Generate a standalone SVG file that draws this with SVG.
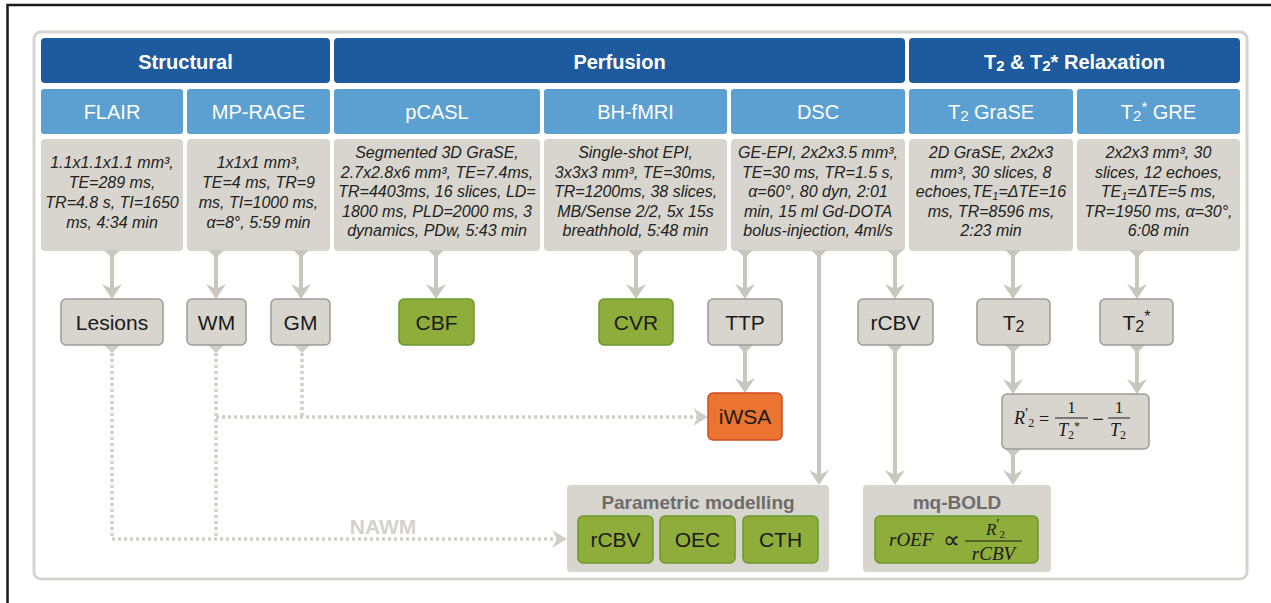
<svg xmlns="http://www.w3.org/2000/svg" width="1271" height="603" viewBox="0 0 1271 603">
<defs>
<style>
.hd{fill:#1e5a9e}
.sh{fill:#5c9fd1}
.pb{fill:#d7d5cd}
.nd{fill:#d7d5cd;stroke:#9d9c97;stroke-width:1.5}
.gr{fill:#8fad3a;stroke:#6a9a2e;stroke-width:1.5}
.or{fill:#ea7430;stroke:#d24a26;stroke-width:1.5}
.ht{font-family:"Liberation Sans",Arial,sans-serif;font-weight:bold;font-size:20px;fill:#fff;text-anchor:middle}
.st{font-family:"Liberation Sans",Arial,sans-serif;font-size:20px;fill:#fff;text-anchor:middle}
.pt{font-family:"Liberation Sans",Arial,sans-serif;font-style:italic;font-size:16px;fill:#222;text-anchor:middle}
.nt{font-family:"Liberation Sans",Arial,sans-serif;font-size:21px;fill:#1a1a1a;text-anchor:middle}
.gt{font-family:"Liberation Sans",Arial,sans-serif;font-weight:bold;font-size:19px;fill:#6c6c6c;text-anchor:middle}
.mi{font-family:"Liberation Serif","Times New Roman",serif;font-style:italic;fill:#1a1a1a}
.mr{font-family:"Liberation Serif","Times New Roman",serif;font-style:normal;fill:#1a1a1a}
.ms{font-family:"DejaVu Sans",sans-serif;fill:#1a1a1a;text-anchor:middle}
.ln{fill:none;stroke:#c9c7bd;stroke-width:4}
.dt{fill:none;stroke:#d0cec6;stroke-width:3.5;stroke-dasharray:3 3}
.wg{fill:#c9c7bd}
.wd{fill:#d0cec6}
</style>
<marker id="ah" markerUnits="userSpaceOnUse" viewBox="0 0 15 20" markerWidth="15" markerHeight="20" refX="6" refY="10" orient="auto">
<path d="M0,0 L15,10 L0,20 L5,10 Z" fill="#c9c7bd"/>
</marker>
<marker id="ahd" markerUnits="userSpaceOnUse" viewBox="0 0 15 18" markerWidth="15" markerHeight="18" refX="6" refY="9" orient="auto">
<path d="M0,0 L15,9 L0,18 L5,9 Z" fill="#d0cec6"/>
</marker>
</defs>
<rect width="1271" height="603" fill="#fff"/>
<path d="M7.5,603 V5 H1271" fill="none" stroke="#1a1a1a" stroke-width="2.5"/>
<rect x="34" y="32" width="1213" height="547" rx="7" fill="#fff" stroke="#d6d4cc" stroke-width="3"/>

<g id="headers">
<rect class="hd" x="41" y="38" width="289" height="45" rx="4"/>
<text class="ht" x="185.5" y="69">Structural</text>
<rect class="hd" x="334" y="38" width="571" height="45" rx="4"/>
<text class="ht" x="619.5" y="69">Perfusion</text>
<rect class="hd" x="909" y="38" width="331" height="45" rx="4"/>
<text class="ht" x="1074.5" y="69">T<tspan font-size="15" dy="2">2</tspan><tspan dy="-2"> &amp; T</tspan><tspan font-size="15" dy="2">2</tspan><tspan dy="-2">* Relaxation</tspan></text>
</g>

<g id="flair">
<rect class="sh" x="41" y="89" width="142" height="45" rx="3"/>
<text class="st" x="112" y="119">FLAIR</text>
<rect class="pb" x="41" y="139" width="142" height="112" rx="4"/>
<text class="pt" x="112" y="168">1.1x1.1x1.1 mm³,</text>
<text class="pt" x="112" y="188">TE=289 ms,</text>
<text class="pt" x="112" y="208">TR=4.8 s, TI=1650</text>
<text class="pt" x="112" y="228">ms, 4:34 min</text>
</g>
<g id="mprage">
<rect class="sh" x="187" y="89" width="143" height="45" rx="3"/>
<text class="st" x="258.5" y="119">MP-RAGE</text>
<rect class="pb" x="187" y="139" width="143" height="112" rx="4"/>
<text class="pt" x="258.5" y="168">1x1x1 mm³,</text>
<text class="pt" x="258.5" y="188">TE=4 ms, TR=9</text>
<text class="pt" x="258.5" y="208">ms, TI=1000 ms,</text>
<text class="pt" x="258.5" y="228">α=8°, 5:59 min</text>
</g>
<g id="pcasl">
<rect class="sh" x="334" y="89" width="206" height="45" rx="3"/>
<text class="st" x="437" y="119">pCASL</text>
<rect class="pb" x="334" y="139" width="206" height="112" rx="4"/>
<text class="pt" x="437" y="158">Segmented 3D GraSE,</text>
<text class="pt" x="437" y="177.5">2.7x2.8x6 mm³, TE=7.4ms,</text>
<text class="pt" x="437" y="197">TR=4403ms, 16 slices, LD=</text>
<text class="pt" x="437" y="216.5">1800 ms, PLD=2000 ms, 3</text>
<text class="pt" x="437" y="236">dynamics, PDw, 5:43 min</text>
</g>
<g id="bhfmri">
<rect class="sh" x="544" y="89" width="183" height="45" rx="3"/>
<text class="st" x="635.5" y="119">BH-fMRI</text>
<rect class="pb" x="544" y="139" width="183" height="112" rx="4"/>
<text class="pt" x="635.5" y="158">Single-shot EPI,</text>
<text class="pt" x="635.5" y="177.5">3x3x3 mm³, TE=30ms,</text>
<text class="pt" x="635.5" y="197">TR=1200ms, 38 slices,</text>
<text class="pt" x="635.5" y="216.5">MB/Sense 2/2, 5x 15s</text>
<text class="pt" x="635.5" y="236">breathhold, 5:48 min</text>
</g>
<g id="dsc">
<rect class="sh" x="731" y="89" width="174" height="45" rx="3"/>
<text class="st" x="818" y="119">DSC</text>
<rect class="pb" x="731" y="139" width="174" height="112" rx="4"/>
<text class="pt" x="818" y="158">GE-EPI, 2x2x3.5 mm³,</text>
<text class="pt" x="818" y="177.5">TE=30 ms, TR=1.5 s,</text>
<text class="pt" x="818" y="197">α=60°, 80 dyn, 2:01</text>
<text class="pt" x="818" y="216.5">min, 15 ml Gd-DOTA</text>
<text class="pt" x="818" y="236">bolus-injection, 4ml/s</text>
</g>
<g id="t2grase">
<rect class="sh" x="909" y="89" width="164" height="45" rx="3"/>
<text class="st" x="991" y="119">T<tspan font-size="15" dy="2">2</tspan><tspan dy="-2"> GraSE</tspan></text>
<rect class="pb" x="909" y="139" width="164" height="112" rx="4"/>
<text class="pt" x="991" y="158">2D GraSE, 2x2x3</text>
<text class="pt" x="991" y="177.5">mm³, 30 slices, 8</text>
<text class="pt" x="991" y="197">echoes,TE<tspan font-size="11" dy="3">1</tspan><tspan dy="-3">=ΔTE=16</tspan></text>
<text class="pt" x="991" y="216.5">ms, TR=8596 ms,</text>
<text class="pt" x="991" y="236">2:23 min</text>
</g>
<g id="t2sgre">
<rect class="sh" x="1077" y="89" width="163" height="45" rx="3"/>
<text class="st" x="1158.5" y="119">T<tspan font-size="15" dy="2">2</tspan><tspan font-size="15" dy="-9">*</tspan><tspan dy="7"> GRE</tspan></text>
<rect class="pb" x="1077" y="139" width="163" height="112" rx="4"/>
<text class="pt" x="1158.5" y="158">2x2x3 mm³, 30</text>
<text class="pt" x="1158.5" y="177.5">slices, 12 echoes,</text>
<text class="pt" x="1158.5" y="197">TE<tspan font-size="11" dy="3">1</tspan><tspan dy="-3">=ΔTE=5 ms,</tspan></text>
<text class="pt" x="1158.5" y="216.5">TR=1950 ms, α=30°,</text>
<text class="pt" x="1158.5" y="236">6:08 min</text>
</g>

<g id="connectors">
<polygon class="wg" points="104,250 120,250 112,258"/>
<polygon class="wg" points="208,250 224,250 216,258"/>
<polygon class="wg" points="293,250 309,250 301,258"/>
<polygon class="wg" points="428,250 444,250 436,258"/>
<polygon class="wg" points="628,250 644,250 636,258"/>
<polygon class="wg" points="737,250 753,250 745,258"/>
<polygon class="wg" points="811,250 827,250 819,258"/>
<polygon class="wg" points="887,250 903,250 895,258"/>
<polygon class="wg" points="1005,250 1021,250 1013,258"/>
<polygon class="wg" points="1129,250 1145,250 1137,258"/>
<path class="ln" d="M112,252 V290" marker-end="url(#ah)"/>
<path class="ln" d="M216,252 V290" marker-end="url(#ah)"/>
<path class="ln" d="M301,252 V290" marker-end="url(#ah)"/>
<path class="ln" d="M436,252 V290" marker-end="url(#ah)"/>
<path class="ln" d="M636,252 V290" marker-end="url(#ah)"/>
<path class="ln" d="M745,252 V290" marker-end="url(#ah)"/>
<path class="ln" d="M819,252 V476" marker-end="url(#ah)"/>
<path class="ln" d="M895,252 V290" marker-end="url(#ah)"/>
<path class="ln" d="M1013,252 V290" marker-end="url(#ah)"/>
<path class="ln" d="M1137,252 V290" marker-end="url(#ah)"/>
<polygon class="wg" points="737,345 753,345 745,353"/>
<path class="ln" d="M745,347 V384" marker-end="url(#ah)"/>
<polygon class="wg" points="887,345 903,345 895,353"/>
<path class="ln" d="M895,347 V476" marker-end="url(#ah)"/>
<polygon class="wg" points="1005,345 1021,345 1013,353"/>
<path class="ln" d="M1013,347 V385" marker-end="url(#ah)"/>
<polygon class="wg" points="1129,345 1145,345 1137,353"/>
<path class="ln" d="M1137,347 V385" marker-end="url(#ah)"/>
<polygon class="wg" points="1005,449 1021,449 1013,457"/>
<path class="ln" d="M1013,451 V476" marker-end="url(#ah)"/>
<polygon class="wd" points="104,345 120,345 112,353"/>
<polygon class="wd" points="208,345 224,345 216,353"/>
<polygon class="wd" points="294,345 310,345 302,353"/>
<path class="dt" d="M112,353 V539 H558" marker-end="url(#ahd)"/>
<path class="dt" d="M216,353 V539"/>
<path class="dt" d="M302,353 V417"/>
<path class="dt" d="M216,417 H699" marker-end="url(#ahd)"/>
<text x="383" y="534" font-family="Liberation Sans, Arial, sans-serif" font-weight="bold" font-size="21" fill="#d4d2ca" text-anchor="middle">NAWM</text>
</g>

<g id="lesions"><rect class="nd" x="61" y="299" width="102" height="46" rx="5"/><text class="nt" x="112" y="330">Lesions</text></g>
<g id="wm"><rect class="nd" x="187" y="299" width="59" height="46" rx="5"/><text class="nt" x="216.5" y="330">WM</text></g>
<g id="gm"><rect class="nd" x="271" y="299" width="59" height="46" rx="5"/><text class="nt" x="300.5" y="330">GM</text></g>
<g id="cbf"><rect class="gr" x="399" y="299" width="75" height="46" rx="5"/><text class="nt" x="436.5" y="330">CBF</text></g>
<g id="cvr"><rect class="gr" x="599" y="299" width="74" height="46" rx="5"/><text class="nt" x="636" y="330">CVR</text></g>
<g id="ttp"><rect class="nd" x="708" y="299" width="74" height="46" rx="5"/><text class="nt" x="745" y="330">TTP</text></g>
<g id="iwsa"><rect class="or" x="708" y="393" width="74" height="47" rx="5"/><text class="nt" x="745" y="424">iWSA</text></g>
<g id="rcbv"><rect class="nd" x="858" y="299" width="75" height="46" rx="5"/><text class="nt" x="895.5" y="330">rCBV</text></g>
<g id="t2"><rect class="nd" x="977" y="299" width="73" height="46" rx="5"/><text class="nt" x="1013.5" y="330">T<tspan font-size="16" dy="2">2</tspan></text></g>
<g id="t2s"><rect class="nd" x="1100" y="299" width="73" height="46" rx="5"/><text class="nt" x="1136.5" y="330">T<tspan font-size="16" dy="2">2</tspan><tspan font-size="16" dy="-10">*</tspan></text></g>

<g id="r2prime">
<rect class="nd" x="1002" y="394" width="147" height="55" rx="5"/>
<text class="mi" x="1014" y="424" font-size="18">R<tspan class="mr" font-size="15" dy="-6">′</tspan><tspan class="mr" font-size="12" dy="9">2</tspan></text>
<text class="mr" x="1044" y="425" font-size="18" text-anchor="middle">=</text>
<line x1="1055" y1="418" x2="1088" y2="418" stroke="#1a1a1a" stroke-width="1"/>
<text class="mr" x="1071.5" y="413" font-size="17" text-anchor="middle">1</text>
<text class="mi" x="1058" y="436" font-size="18">T<tspan class="mr" font-size="12" dy="3">2</tspan><tspan class="mr" font-size="12" dy="-9">*</tspan></text>
<text class="ms" x="1098" y="424" font-size="15">−</text>
<line x1="1108" y1="418" x2="1130" y2="418" stroke="#1a1a1a" stroke-width="1"/>
<text class="mr" x="1119" y="413" font-size="17" text-anchor="middle">1</text>
<text class="mi" x="1110" y="436" font-size="18">T<tspan class="mr" font-size="12" dy="3">2</tspan></text>
</g>

<g id="parametric">
<rect class="pb" x="567" y="485" width="262" height="87" rx="4"/>
<text class="gt" x="698" y="509">Parametric modelling</text>
<g id="pm-rcbv"><rect class="gr" x="578" y="516" width="75" height="47" rx="5"/><text class="nt" x="615.5" y="547">rCBV</text></g>
<g id="pm-oec"><rect class="gr" x="660" y="516" width="75" height="47" rx="5"/><text class="nt" x="697.5" y="547">OEC</text></g>
<g id="pm-cth"><rect class="gr" x="743" y="516" width="75" height="47" rx="5"/><text class="nt" x="780.5" y="547">CTH</text></g>
</g>

<g id="mqbold">
<rect class="pb" x="863" y="485" width="188" height="87" rx="4"/>
<text class="gt" x="957" y="509">mq-BOLD</text>
<rect class="gr" x="875" y="516" width="163" height="47" rx="5"/>
<text class="mi" x="889" y="546" font-size="19">rOEF</text>
<text class="mr" x="951" y="548" font-size="24" text-anchor="middle">∝</text>
<line x1="965" y1="541" x2="1022" y2="541" stroke="#1a1a1a" stroke-width="1"/>
<text class="mi" x="986" y="535" font-size="17">R<tspan class="mr" font-size="14" dy="-6">′</tspan><tspan class="mr" font-size="11" dy="9">2</tspan></text>
<text class="mi" x="993.5" y="560" font-size="19" text-anchor="middle">rCBV</text>
</g>
</svg>
